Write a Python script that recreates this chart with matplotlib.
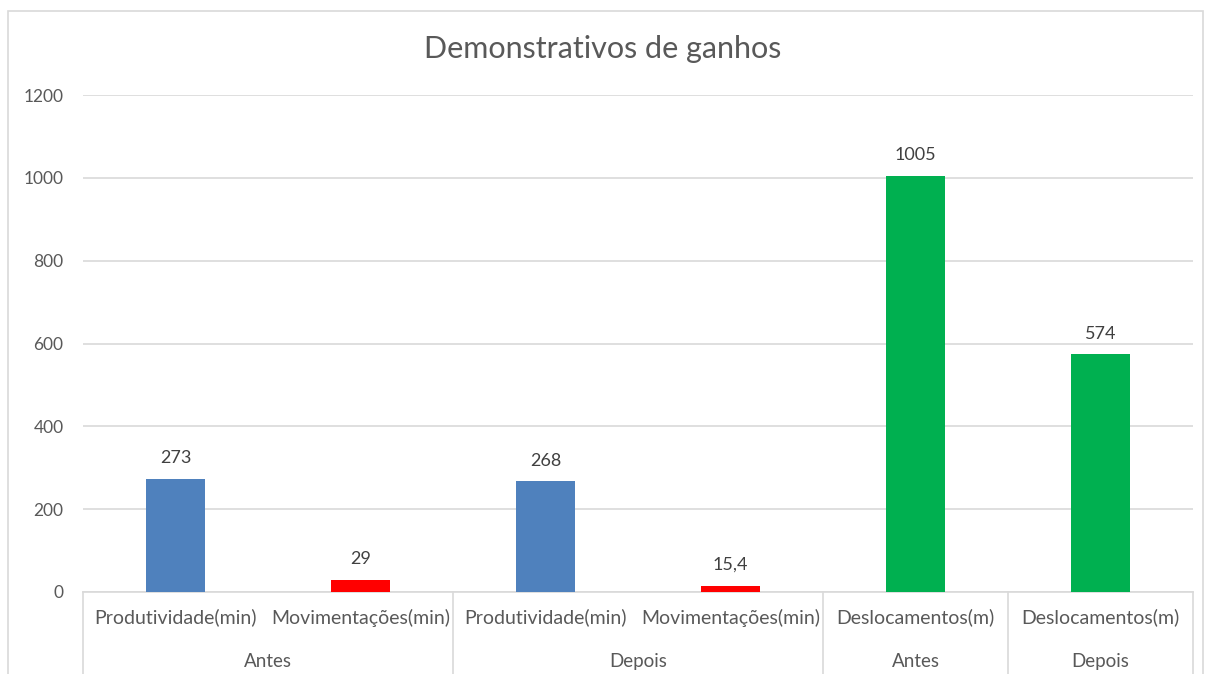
import matplotlib
matplotlib.use("Agg")
import matplotlib.pyplot as plt
from matplotlib.patches import Rectangle
from matplotlib.transforms import blended_transform_factory

plt.rcParams["font.family"] = ["Lato", "DejaVu Sans"]

# dados
categorias = ["Produtividade(min)", "Movimentações(min)",
              "Produtividade(min)", "Movimentações(min)",
              "Deslocamentos(m)", "Deslocamentos(m)"]
valores = [273, 29, 268, 15.4, 1005, 574]
rotulos = ["273", "29", "268", "15,4", "1005", "574"]
grupos = ["Antes", "Depois", "Antes", "Depois"]
tamanho_grupo = [2, 2, 1, 1]
cores = ["#4f81bd", "#ff0000", "#4f81bd", "#ff0000", "#00b050", "#00b050"]

CINZA_TXT = "#595959"
CINZA_LINHA = "#d9d9d9"

W, H = 1205, 674
fig = plt.figure(figsize=(W / 100, H / 100), dpi=100)
ax = fig.add_axes([83 / W, (H - 592) / H, (1193 - 83) / W, (592 - 95) / H])

# moldura do gráfico (estilo Excel)
fig.patches.append(Rectangle((8 / W, -0.05), (1203 - 8) / W, (H - 11) / H + 0.05,
                             transform=fig.transFigure, fill=False,
                             edgecolor=CINZA_LINHA, linewidth=1.2))

x = list(range(len(valores)))
ax.bar(x, valores, width=0.32, color=cores, zorder=3)
for xi, v, r in zip(x, valores, rotulos):
    ax.annotate(r, (xi, v), xytext=(0, 9), textcoords="offset points",
                ha="center", va="bottom", fontsize=13, color="#404040")

ax.set_xlim(-0.5, len(valores) - 0.5)
ax.set_ylim(0, 1200)
ax.set_yticks(range(0, 1201, 200))
ax.grid(axis="y", color=CINZA_LINHA, linewidth=1.2, zorder=0)
ax.tick_params(axis="y", length=0, pad=14, labelsize=12.5, labelcolor=CINZA_TXT)

ax.set_xticks(x)
ax.set_xticklabels(categorias)
ax.tick_params(axis="x", length=0, pad=12, labelsize=14, labelcolor=CINZA_TXT)

for s in ("top", "right", "left"):
    ax.spines[s].set_visible(False)
ax.spines["bottom"].set_color(CINZA_LINHA)
ax.spines["bottom"].set_linewidth(1.2)

# eixo de categorias em dois níveis
tr = blended_transform_factory(ax.transData, ax.transAxes)
inicio = -0.5
ax.plot([inicio, inicio], [0, -0.2], transform=tr, color=CINZA_LINHA,
        linewidth=1.2, clip_on=False)
for g, n in zip(grupos, tamanho_grupo):
    fim = inicio + n
    ax.text((inicio + fim) / 2, -0.14, g, transform=tr, ha="center",
            va="center", fontsize=13.5, color=CINZA_TXT)
    ax.plot([fim, fim], [0, -0.2], transform=tr, color=CINZA_LINHA,
            linewidth=1.2, clip_on=False)
    inicio = fim

fig.text(0.5, 1 - 49 / H, "Demonstrativos de ganhos", ha="center", va="center",
         fontsize=22, color=CINZA_TXT)

fig.savefig("out.png", dpi=100)
